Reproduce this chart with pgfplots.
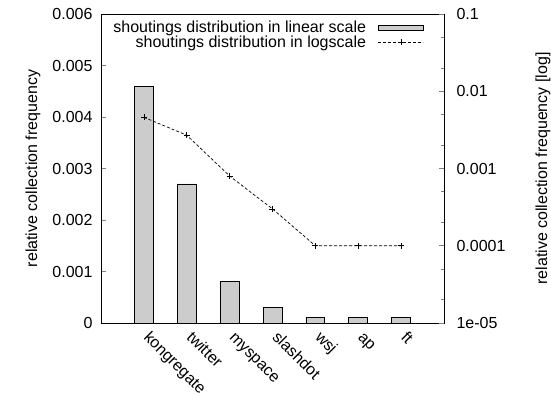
\documentclass[border=0pt]{standalone}
\usepackage{fontspec}
\setmainfont{Liberation Sans}
\usepackage{pgfplots}
\usepackage{pgfplotstable}
\pgfplotsset{compat=1.18}
\definecolor{barfill}{RGB}{204,204,204}
\pgfplotsset{
  mylegline/.style={legend image code/.code={%
    \path (0pt,0pt);
    \draw[##1] (11pt,0pt) -- (56pt,0pt);
    \draw[##1, only marks] plot coordinates {(33.5pt,0pt)};}},
  mylegbar/.style={legend image code/.code={%
    \path (0pt,0pt);
    \draw[fill=barfill,draw=black,line width=0.8pt] (11pt,-2.5pt) rectangle (56pt,2.5pt);}},
}
\pgfplotstableread{
x val
0 0.0046
1 0.0027
2 0.0008
3 0.0003
4 0.0001
5 0.0001
6 0.0001
}\data
\begin{document}
\begin{tikzpicture}[font=\fontsize{16}{19}\selectfont]
\useasboundingbox (-101pt,-71pt) rectangle (450pt,323pt);
\begin{axis}[
  scale only axis, width=343pt, height=309pt,
  font=\fontsize{16}{19}\selectfont,
  xmin=-1, xmax=7, ymin=0, ymax=0.006,
  enlarge x limits=false, enlarge y limits=false,
  scaled y ticks=false,
  axis line style={line width=0.9pt},
  xtick={0,...,6},
  xticklabels={kongregate,twitter,myspace,slashdot,wsj,ap,ft},
  xtick style={draw=none},
  xticklabel style={xshift=-1pt,yshift=-15pt,rotate=-45,anchor=base west,inner sep=0pt},
  ytick={0,0.001,0.002,0.003,0.004,0.005,0.006},
  yticklabels={0,0.001,0.002,0.003,0.004,0.005,0.006},
  ytick pos=left, tick align=inside,
  major tick length=5pt,
  ytick style={line width=0.8pt},
  yticklabel style={xshift=-5pt},
  /pgf/number format/assume math mode=true,
  ylabel={relative collection frequency},
  ylabel style={at={(axis description cs:-0.198,0.5)}, anchor=center},
]
\addplot[ybar, bar width=0.44, fill=barfill, draw=black, line width=0.8pt] table[x=x,y=val]{\data};
\end{axis}
\begin{axis}[
  scale only axis, width=343pt, height=309pt,
  font=\fontsize{16}{19}\selectfont,
  xmin=-1, xmax=7, ymode=log, ymin=1e-5, ymax=0.1,
  enlarge x limits=false, enlarge y limits=false,
  axis x line=none, axis y line*=right,
  axis line style={line width=0.9pt},
  ytick={1e-5,1e-4,1e-3,1e-2,1e-1},
  yticklabels={1e-05,0.0001,0.001,0.01,0.1},
  minor ytick={2e-5,5e-5,2e-4,5e-4,2e-3,5e-3,2e-2,5e-2},
  tick align=inside,
  major tick length=5pt, minor tick length=3pt,
  ytick style={line width=0.8pt},
  yticklabel style={xshift=9pt},
  /pgf/number format/assume math mode=true,
  ylabel={relative collection frequency [log]},
  ylabel style={at={(axis description cs:1.2886,0.5)}, anchor=center},
  legend style={draw=none, fill=none, at={(axis description cs:0.9417,0.98)}, anchor=north east,
    inner sep=0pt, row sep=-1pt, column sep=0pt, nodes={inner sep=1pt}},
  legend cell align=right, legend plot pos=right,
]
\addlegendimage{mylegbar}
\addlegendentry{shoutings distribution in linear scale}
\addplot[black, line width=0.7pt, dash pattern=on 3pt off 2pt, mark=+, mark size=3pt, mark options={solid}, mylegline]
  table[x=x,y=val]{\data};
\addlegendentry{shoutings distribution in logscale}
\end{axis}
\end{tikzpicture}
\end{document}
